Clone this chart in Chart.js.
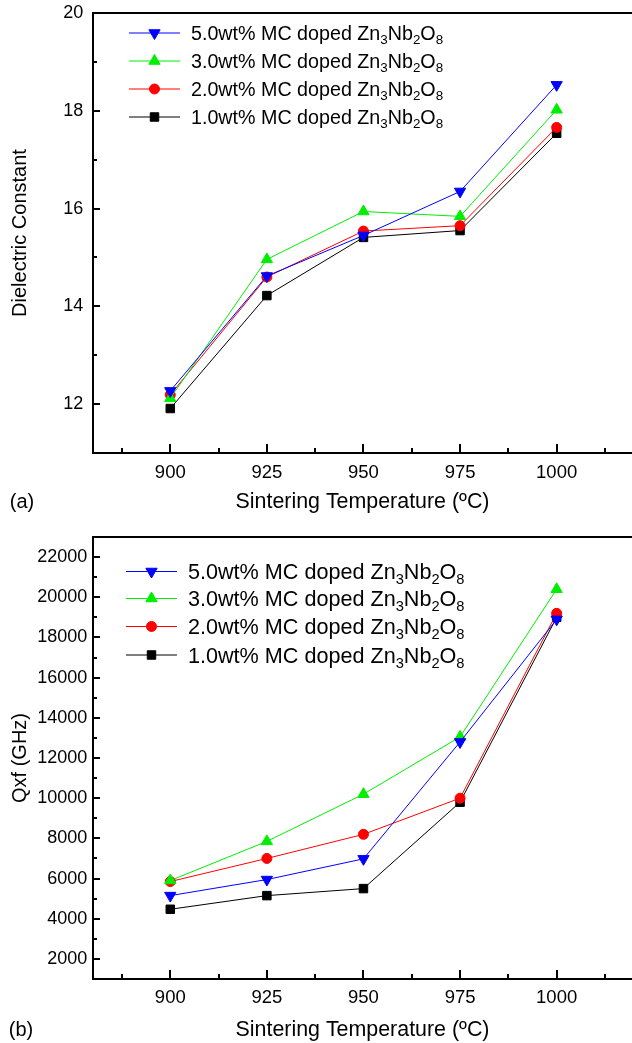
<!DOCTYPE html>
<html>
<head>
<meta charset="utf-8">
<script src="https://cdn.jsdelivr.net/npm/chart.js@4.4.1/dist/chart.umd.min.js"></script>
<style>
html,body{margin:0;padding:0;background:#fff;}
#pa{position:absolute;left:0;top:0;width:632px;height:520px;}
#pb{position:absolute;left:0;top:520px;width:632px;height:523px;}
</style>
</head>
<body>
<div id="pa"><canvas id="ca"></canvas></div>
<div id="pb"><canvas id="cb"></canvas></div>
<script>
// ---------------- data ----------------
const temperatures = [900, 925, 950, 975, 1000];
const seriesLabels = [
  '5.0wt% MC doped Zn₃Nb₂O₈',
  '3.0wt% MC doped Zn₃Nb₂O₈',
  '2.0wt% MC doped Zn₃Nb₂O₈',
  '1.0wt% MC doped Zn₃Nb₂O₈'
];
// (a) dielectric constant
const dielectricMC50 = [12.27, 14.62, 15.45, 16.35, 18.53];
const dielectricMC30 = [12.12, 14.96, 15.94, 15.84, 18.02];
const dielectricMC20 = [12.19, 14.60, 15.54, 15.65, 17.66];
const dielectricMC10 = [11.91, 14.22, 15.41, 15.55, 17.54];
// (b) Qxf (GHz)
const qxfMC50 = [5150, 5950, 6980, 12800, 18900];
const qxfMC30 = [5900, 7850, 10200, 13050, 20400];
const qxfMC20 = [5850, 7000, 8200, 10000, 19200];
const qxfMC10 = [4470, 5150, 5500, 9800, 19000];
// tick labels
const xTickLabels = [900, 925, 950, 975, 1000];
const yTickLabelsA = [12, 14, 16, 18, 20];
const yTickLabelsB = [2000, 4000, 6000, 8000, 10000, 12000, 14000, 16000, 18000, 20000, 22000];

// ---------------- styles ----------------
const FAMILY = '"Liberation Sans", Arial, Helvetica, sans-serif';
Chart.defaults.font.family = FAMILY;
Chart.defaults.color = '#000';
const seriesStyles = [
  {color: '#0000ff', pointStyle: 'triangle', rotation: 180, radius: 6.5},
  {color: '#00ee00', pointStyle: 'triangle', rotation: 0, radius: 6.5},
  {color: '#ff0000', pointStyle: 'circle', rotation: 0, radius: 5},
  {color: '#000000', pointStyle: 'rect', rotation: 0, radius: 6}
];

function makeDatasets(seriesValues) {
  return seriesValues.map((vals, s) => {
    const st = seriesStyles[s];
    return {
      label: seriesLabels[s],
      data: temperatures.map((t, i) => ({x: t, y: vals[i]})),
      borderColor: st.color,
      backgroundColor: st.color,
      borderWidth: 1,
      pointStyle: st.pointStyle,
      pointRotation: st.rotation,
      pointRadius: st.radius,
      pointHoverRadius: st.radius,
      pointBackgroundColor: st.color,
      pointBorderColor: st.color,
      pointBorderWidth: 1,
      tension: 0,
      fill: false
    };
  });
}

function drawRich(ctx, text, x, yMid, size) {
  const subs = '₀₁₂₃₄₅₆₇₈₉';
  const base = yMid + size * 0.36;
  ctx.textBaseline = 'alphabetic';
  ctx.textAlign = 'left';
  let cx = x, run = '', isSub = false;
  const flush = () => {
    if (!run) return;
    const s = isSub ? size * 0.68 : size;
    ctx.font = s + 'px ' + FAMILY;
    ctx.fillText(run, cx, isSub ? base + size * 0.22 : base);
    cx += ctx.measureText(run).width;
    run = '';
  };
  for (const ch of text) {
    const k = subs.indexOf(ch);
    const sub = k >= 0;
    if (sub !== isSub) { flush(); isSub = sub; }
    run += sub ? String(k) : ch;
  }
  flush();
}

const frameAndLegend = {
  id: 'richLegend',
  afterDraw(chart, args, o) {
    const ctx = chart.ctx;
    const ca = chart.chartArea;
    ctx.save();
    // top frame line (right side of the frame lies beyond the picture)
    ctx.strokeStyle = '#000';
    ctx.lineWidth = 2;
    ctx.beginPath();
    ctx.moveTo(ca.left - 1, Math.round(ca.top));
    ctx.lineTo(ca.right + 2, Math.round(ca.top));
    ctx.stroke();
    // inward tick marks at the library's tick positions
    const xs = chart.scales.x, ys = chart.scales.y;
    const bottom = Math.round(ca.bottom), left = Math.round(ca.left);
    xs.ticks.forEach(t => {
      const px = Math.round(xs.getPixelForValue(t.value));
      const len = xTickLabels.includes(t.value) ? o.xMajor : o.xMinor;
      ctx.beginPath(); ctx.moveTo(px, bottom); ctx.lineTo(px, bottom - len); ctx.stroke();
    });
    ys.ticks.forEach(t => {
      const py = Math.round(ys.getPixelForValue(t.value));
      const len = o.yLabels.includes(t.value) ? o.yMajor : o.yMinor;
      ctx.beginPath(); ctx.moveTo(left, py); ctx.lineTo(left + len, py); ctx.stroke();
    });
    // legend
    chart.data.datasets.forEach((ds, i) => {
      const y = o.rows[i];
      ctx.strokeStyle = ds.borderColor;
      ctx.lineWidth = 1;
      ctx.beginPath();
      ctx.moveTo(o.lineX0, y);
      ctx.lineTo(o.lineX1, y);
      ctx.stroke();
      ctx.fillStyle = ds.pointBackgroundColor;
      ctx.strokeStyle = ds.pointBorderColor;
      ctx.lineWidth = 1;
      if (Chart.helpers && Chart.helpers.drawPoint) {
        Chart.helpers.drawPoint(ctx, {pointStyle: ds.pointStyle, rotation: ds.pointRotation, radius: ds.pointRadius, borderWidth: 1}, o.markX, y);
      }
      ctx.fillStyle = '#000';
      drawRich(ctx, ds.label, o.textX, y, o.fontSize);
    });
    ctx.fillStyle = '#000';
    ctx.font = o.tagSize + 'px ' + FAMILY;
    ctx.textAlign = 'center';
    ctx.textBaseline = 'middle';
    ctx.fillText(o.tag, o.tagX, o.tagY);
    ctx.restore();
  }
};

function zeroPad(s) { s.paddingTop = 0; s.paddingBottom = 0; s.paddingLeft = 0; s.paddingRight = 0; }

function makeChart(canvasId, cfg) {
  return new Chart(document.getElementById(canvasId), {
    type: 'line',
    data: {datasets: makeDatasets(cfg.series)},
    plugins: [frameAndLegend],
    options: {
      responsive: true,
      maintainAspectRatio: false,
      animation: false,
      events: [],
      layout: {autoPadding: false, padding: {top: cfg.top, left: 0, right: 0, bottom: 0}},
      plugins: {
        legend: {display: false},
        tooltip: {enabled: false},
        richLegend: Object.assign({yLabels: cfg.yLabels, xMajor: 9, xMinor: 5, yMajor: 7, yMinor: 4}, cfg.legend)
      },
      scales: {
        x: {
          type: 'linear',
          position: 'bottom',
          min: 880,
          max: 1019.5,
          afterFit: (s) => { s.height = cfg.xHeight; zeroPad(s); },
          border: {display: true, width: 2, color: '#000'},
          grid: {drawOnChartArea: false, drawTicks: false},
          ticks: {
            stepSize: 12.5,
            includeBounds: false,
            autoSkip: false,
            maxRotation: 0,
            padding: cfg.xTickPad,
            font: {size: 18.5},
            color: '#000',
            callback: (v) => xTickLabels.includes(v) ? String(v) : ''
          },
          title: {
            display: true,
            text: 'Sintering Temperature (ºC)',
            font: {size: 21.4},
            color: '#000',
            padding: {top: 0, bottom: cfg.xTitlePad}
          }
        },
        y: {
          type: 'linear',
          position: 'left',
          min: cfg.yMin,
          max: cfg.yMax,
          afterFit: (s) => { s.width = 93; zeroPad(s); },
          border: {display: true, width: 2, color: '#000'},
          grid: {drawOnChartArea: false, drawTicks: false},
          ticks: {
            stepSize: cfg.yStep,
            autoSkip: false,
            padding: cfg.yTickPad,
            font: {size: 18},
            color: '#000',
            callback: (v) => cfg.yLabels.includes(v) ? String(v) : ''
          },
          title: {
            display: true,
            text: cfg.yTitle,
            font: {size: 20},
            color: '#000',
            padding: {top: 8.5, bottom: 0}
          }
        }
      }
    }
  });
}

makeChart('ca', {
  series: [dielectricMC50, dielectricMC30, dielectricMC20, dielectricMC10],
  top: 13, xHeight: 67, xTickPad: 9.3, xTitlePad: 5.5,
  yMin: 11, yMax: 20, yStep: 1, yLabels: yTickLabelsA, yTickPad: 9.7,
  yTitle: 'Dielectric Constant',
  legend: {rows: [33, 61, 89, 117], lineX0: 129, lineX1: 180, markX: 154.5, textX: 191, fontSize: 19.7,
           tag: '(a)', tagX: 22, tagY: 502, tagSize: 20}
});

makeChart('cb', {
  series: [qxfMC50, qxfMC30, qxfMC20, qxfMC10],
  top: 17, xHeight: 64, xTickPad: 8.3, xTitlePad: 0,
  yMin: 1000, yMax: 23000, yStep: 1000, yLabels: yTickLabelsB, yTickPad: 5.7,
  yTitle: 'Qxf (GHz)',
  legend: {rows: [51.5, 78.5, 106.5, 135], lineX0: 126, lineX1: 177, markX: 151.5, textX: 188, fontSize: 21.6,
           tag: '(b)', tagX: 21, tagY: 510, tagSize: 20}
});
</script>
</body>
</html>
